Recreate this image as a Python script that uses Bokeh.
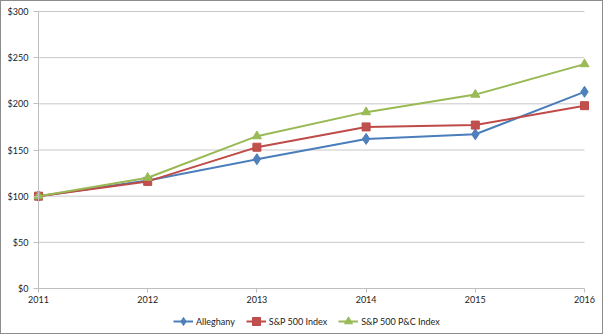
from bokeh.plotting import figure
from bokeh.models import Range1d, FixedTicker, NumeralTickFormatter, Legend, LegendItem
from bokeh.embed import file_html
from bokeh.resources import INLINE

years = [2011, 2012, 2013, 2014, 2015, 2016]
alleghany = [100, 117, 140, 162, 167, 213]
sp500 = [100, 116, 153, 175, 177, 198]
pc_index = [100, 120, 165, 191, 210, 243]
y_ticks = [0, 50, 100, 150, 200, 250, 300]
series_names = ["Alleghany", "S&P 500 Index", "S&P 500 P&C Index"]

FONT = "Lato"
FS = "9px"
TXT = "#222222"
AX = "#BFBFBF"

W, H = 603, 334
# plot region inside the canvas (px): years span 37..583, values 0..300 span 287..10
px_left, px_right, px_top, px_bottom = 37, 583, 10, 287
x_per_px = (years[-1] - years[0]) / (px_right - px_left)
y_per_px = (y_ticks[-1] - y_ticks[0]) / (px_bottom - px_top)
x_range = Range1d(years[0] - px_left * x_per_px, years[-1] + (W - px_right) * x_per_px)
y_range = Range1d(y_ticks[0] - (H - px_bottom) * y_per_px, y_ticks[-1] + px_top * y_per_px)

p = figure(width=W, height=H, output_backend="svg", toolbar_location=None,
           x_range=x_range, y_range=y_range,
           min_border_left=0, min_border_right=0, min_border_top=0, min_border_bottom=0)
p.styles = {"border": "1px solid #8C8C8C"}
p.outline_line_color = None
p.xgrid.visible = False
p.ygrid.visible = False

# x axis drawn at $0
p.xaxis.fixed_location = y_ticks[0]
p.xaxis.ticker = FixedTicker(ticks=years)
p.xaxis.bounds = (years[0], years[-1])
p.xaxis.axis_line_color = AX
p.xaxis.major_tick_line_color = AX
p.xaxis.major_tick_out = 4
p.xaxis.major_tick_in = 0
p.xaxis.minor_tick_line_color = None
p.xaxis.major_label_standoff = 3
p.xaxis.major_label_text_font = FONT
p.xaxis.major_label_text_font_size = FS
p.xaxis.major_label_text_color = TXT

# y axis drawn at the first year
p.yaxis.fixed_location = years[0]
p.yaxis.ticker = FixedTicker(ticks=y_ticks)
p.yaxis.formatter = NumeralTickFormatter(format="$0")
p.yaxis.bounds = (y_ticks[0], y_ticks[-1])
p.yaxis.axis_line_color = AX
p.yaxis.major_tick_line_color = AX
p.yaxis.major_tick_out = 5
p.yaxis.major_tick_in = 0
p.yaxis.minor_tick_line_color = None
p.yaxis.major_label_standoff = 5
p.yaxis.major_label_text_font = FONT
p.yaxis.major_label_text_font_size = FS
p.yaxis.major_label_text_color = TXT

# gridlines between first and last year
p.segment(x0=[years[0]] * (len(y_ticks) - 1), x1=[years[-1]] * (len(y_ticks) - 1),
          y0=y_ticks[1:], y1=y_ticks[1:], line_color="#C8C8C8", line_width=1,
          level="underlay")

specs = [
    (alleghany, "#4A7EBB", "#4F81BD", "diamond", 11),
    (sp500, "#BE4B48", "#C0504D", "square", 8),
    (pc_index, "#98B954", "#9BBB59", "triangle", 9),
]
items = []
for name, (vals, lc, mc, marker, sz) in zip(series_names, specs):
    l = p.line(years, vals, line_color=lc, line_width=2)
    s = p.scatter(years, vals, marker=marker, size=sz, fill_color=mc, line_color=lc)
    items.append(LegendItem(label=name, renderers=[l, s]))

legend = Legend(items=items, orientation="horizontal", location=(172, 4),
                border_line_color=None, background_fill_alpha=0,
                padding=0, margin=0, spacing=11, glyph_width=20, glyph_height=20,
                label_standoff=3, label_text_font=FONT, label_text_font_size=FS,
                label_text_color=TXT)
p.add_layout(legend, "center")

open("out.html", "w").write(file_html(p, INLINE))
